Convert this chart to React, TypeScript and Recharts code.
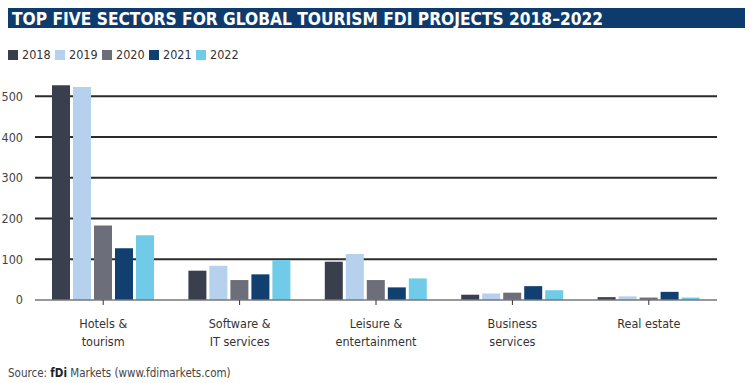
import React from "react";
import { BarChart, Bar, XAxis, YAxis, CartesianGrid } from "recharts";

const sectors = ["Hotels &\ntourism", "Software &\nIT services", "Leisure &\nentertainment", "Business\nservices", "Real estate"];
const years = ["2018", "2019", "2020", "2021", "2022"];
const y2018 = [527, 72, 94, 13, 7];
const y2019 = [523, 84, 113, 16, 9];
const y2020 = [183, 49, 49, 18, 6];
const y2021 = [127, 63, 31, 34, 20];
const y2022 = [159, 98, 53, 24, 6];
const yTicks = [0, 100, 200, 300, 400, 500];

const colors = ["#3a3f4e", "#b5d1ed", "#6c6f79", "#103f70", "#6fcbe7"];
const FONT = "'DejaVu Sans Condensed', sans-serif";

const series = [y2018, y2019, y2020, y2021, y2022];
const data = sectors.map((name, i) => {
  const row: any = { name };
  years.forEach((y, k) => (row[y] = series[k][i]));
  return row;
});

const CategoryTick = ({ x, y, payload }: any) => {
  const lines = String(payload.value).split("\n");
  return (
    <text x={x} y={y + 21} textAnchor="middle" fill="#333" fontSize={12.5} fontFamily={FONT}>
      {lines.map((l, i) => (
        <tspan key={i} x={x} dy={i === 0 ? 0 : 18}>
          {l}
        </tspan>
      ))}
    </text>
  );
};

const LegendRow = () => (
  <div style={{ display: "flex", fontFamily: FONT, fontSize: 12.5, color: "#333" }}>
    {years.map((y, i) => (
      <div key={y} style={{ display: "flex", alignItems: "center", width: 47 }}>
        <span style={{ width: 10, height: 10, background: colors[i], marginRight: 4 }} />
        <span>{y}</span>
      </div>
    ))}
  </div>
);

export default function App() {
  return (
    <div style={{ position: "absolute", left: 0, top: 0, width: 754, height: 383, background: "#fff" }}>
      <svg width={754} height={40} style={{ position: "absolute", left: 0, top: 0 }}>
        <rect x={8} y={8} width={737} height={20} fill="#0d3b6e" />
        <text
          x={12}
          y={24.5}
          fill="#fff"
          fontSize={17}
          fontWeight="bold"
          fontFamily="'DejaVu Sans Condensed', sans-serif"
          textLength={591}
          lengthAdjust="spacingAndGlyphs"
        >
          TOP FIVE SECTORS FOR GLOBAL TOURISM FDI PROJECTS 2018–2022
        </text>
      </svg>
      <div style={{ position: "absolute", left: 8, top: 47 }}>
        <LegendRow />
      </div>
      <div style={{ position: "absolute", left: 0, top: 0 }}>
        <BarChart
          width={754}
          height={383}
          data={data}
          margin={{ top: 76, right: 37, left: 0, bottom: 0 }}
          barSize={18}
          barGap={3}
        >
          <CartesianGrid
            vertical={false}
            horizontalValues={yTicks.filter((t) => t > 0)}
            stroke="#2b2b2b"
            strokeWidth={2}
          />
          <XAxis
            dataKey="name"
            interval={0}
            tick={<CategoryTick />}
            axisLine={{ stroke: "#777", strokeWidth: 1.5 }}
            tickLine={{ stroke: "#333" }}
            tickSize={5}
            height={83}
          />
          <YAxis
            width={35}
            domain={[0, 550]}
            ticks={yTicks}
            axisLine={false}
            tickLine={false}
            tickMargin={6}
            tick={{ fill: "#444", fontSize: 12.5, fontFamily: FONT }}
          />
          {years.map((y, i) => (
            <Bar key={y} dataKey={y} fill={colors[i]} isAnimationActive={false} />
          ))}
        </BarChart>
      </div>
      <div
        style={{
          position: "absolute",
          left: 8,
          top: 366,
          fontFamily: FONT,
          fontSize: 11.5,
          color: "#444",
        }}
      >
        Source: <b style={{ color: "#222" }}>fDi</b> Markets (www.fdimarkets.com)
      </div>
    </div>
  );
}
